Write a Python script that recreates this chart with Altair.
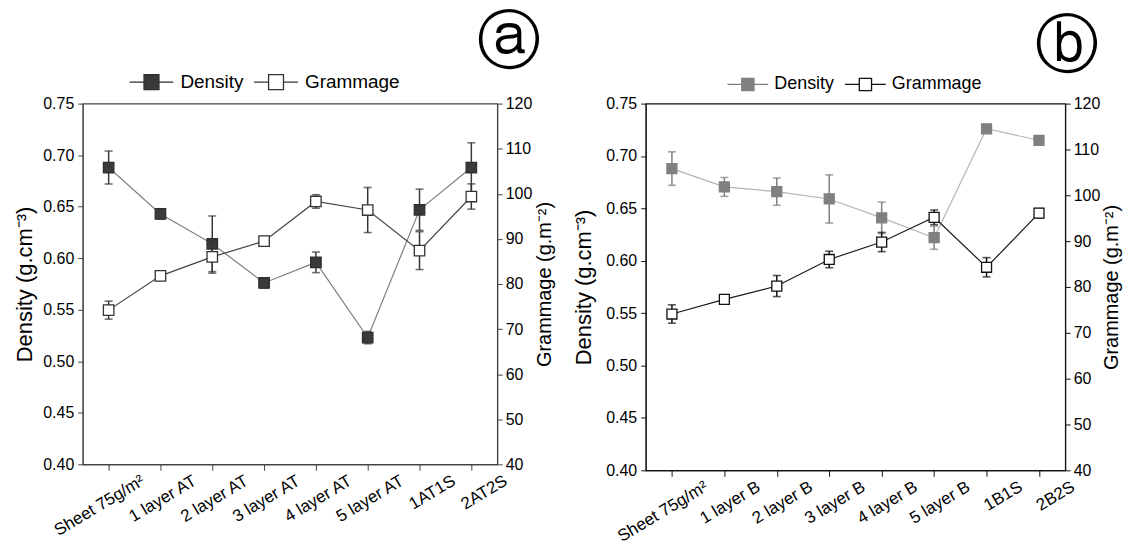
import altair as alt
import pandas as pd

FONT = "Liberation Sans"

# ---------------- data ----------------
cats_a = ["Sheet 75g/m²", "1 layer AT", "2 layer AT", "3 layer AT",
          "4 layer AT", "5 layer AT", "1AT1S", "2AT2S"]
density_a = [0.688, 0.643, 0.614, 0.576, 0.596, 0.523, 0.647, 0.688]
density_a_err = [0.016, 0.005, 0.027, 0.005, 0.010, 0.006, 0.020, 0.024]
grammage_a = [74.2, 81.8, 86.0, 89.5, 98.3, 96.4, 87.4, 99.4]
grammage_a_err = [2.0, 1.0, 3.6, 0.8, 1.5, 5.0, 4.2, 2.8]

cats_b = ["Sheet 75g/m²", "1 layer B", "2 layer B", "3 layer B",
          "4 layer B", "5 layer B", "1B1S", "2B2S"]
density_b = [0.688, 0.6705, 0.666, 0.659, 0.641, 0.622, 0.726, 0.715]
density_b_err = [0.016, 0.009, 0.013, 0.023, 0.015, 0.011, 0.002, 0.002]
grammage_b = [74.1, 77.3, 80.2, 86.0, 89.8, 95.2, 84.3, 96.1]
grammage_b_err = [2.0, 1.0, 2.3, 1.8, 2.1, 1.6, 2.1, 1.0]

density_ticks = [0.40, 0.45, 0.50, 0.55, 0.60, 0.65, 0.70, 0.75]
grammage_ticks = [40, 50, 60, 70, 80, 90, 100, 110, 120]
series_names = ["Density", "Grammage"]


def legend_path(h):
    return (f"M-1,0H{-h}M{h},0H1M{-h},{-h}H{h}V{h}H{-h}Z")


def panel(cats, dens, dens_err, gram, gram_err, st):
    d = pd.DataFrame({"cat": cats, "val": dens, "err": dens_err,
                      "series": series_names[0]})
    g = pd.DataFrame({"cat": cats, "val": gram, "err": gram_err,
                      "series": series_names[1]})

    x_axis = alt.Axis(labelAngle=329, labelAlign="right", labelBaseline="top",
                      labelOffset=st["label_offset"], labelPadding=2,
                      labelFontSize=17, labelFont=FONT, labelColor="black",
                      tickSize=6, tickColor=st["axis"], domainColor=st["axis"],
                      labelOverlap=False, grid=False, title=None)
    xenc = alt.X("cat:N", sort=cats,
                 scale=alt.Scale(type="point", padding=0.5, domain=cats),
                 axis=x_axis)

    leg = alt.Legend(orient="none", legendX=st["legX"], legendY=st["legY"],
                     direction="horizontal", columns=2, title=None,
                     symbolType=legend_path(st["sq"]), symbolSize=st["symS"],
                     symbolStrokeWidth=1.3, symbolOpacity=1,
                     labelFont=FONT, labelFontSize=st["legFont"],
                     labelColor="black", labelOffset=st["labOff"],
                     columnPadding=st["colPad"], padding=0)
    fill_scale = alt.Scale(domain=series_names, range=[st["dfill"], "white"])
    stroke_scale = alt.Scale(domain=series_names,
                             range=[st["dstroke"], st["gstroke"]])

    def group(df, ydom, yaxis, ytitle, line_color, err_color, lw):
        base = alt.Chart(df).transform_calculate(
            lo="datum.val - datum.err", hi="datum.val + datum.err")
        ysc = alt.Scale(domain=ydom, nice=False, zero=False)

        def Y(f):
            return alt.Y(f, scale=ysc, axis=yaxis, title=ytitle)

        line = base.mark_line(color=line_color, strokeWidth=lw).encode(
            x=xenc, y=Y("val:Q"))
        rule = base.mark_rule(color=err_color, strokeWidth=1.5).encode(
            x=xenc, y=Y("lo:Q"), y2="hi:Q")
        tlo = base.mark_tick(color=err_color, size=8, thickness=1.6,
                             orient="horizontal").encode(x=xenc, y=Y("lo:Q"))
        thi = base.mark_tick(color=err_color, size=8, thickness=1.6,
                             orient="horizontal").encode(x=xenc, y=Y("hi:Q"))
        pts = base.mark_point(shape="square", filled=True, size=st["psize"],
                              strokeWidth=1.3, opacity=1).encode(
            x=xenc, y=Y("val:Q"),
            fill=alt.Fill("series:N", scale=fill_scale, legend=leg),
            stroke=alt.Stroke("series:N", scale=stroke_scale, legend=leg))
        return alt.layer(line, rule, tlo, thi, pts)

    dens_axis = alt.Axis(orient="left", values=density_ticks, format=".2f",
                         labelFontSize=16, labelFont=FONT, labelColor="black",
                         labelPadding=4, tickSize=5, tickColor=st["axis"],
                         domainColor=st["axis"], titleFont=FONT,
                         titleFontSize=22, titleFontWeight="normal",
                         titleColor="black", titlePadding=st["ltp"], grid=False)
    gram_axis = alt.Axis(orient="right", values=grammage_ticks,
                         labelFontSize=16, labelFont=FONT, labelColor="black",
                         labelPadding=3, tickSize=5, tickColor=st["axis"],
                         domainColor=st["axis"], titleFont=FONT,
                         titleFontSize=20, titleFontWeight="normal",
                         titleColor="black", titleAngle=270,
                         titleBaseline="top", titlePadding=st["rtp"],
                         grid=False)

    dg = group(d, [0.40, 0.75], dens_axis, "Density (g.cm⁻³)",
               st["dline"], st["derr"], 1.2)
    gg = group(g, [40, 120], gram_axis, "Grammage (g.m⁻²)",
               st["gline"], st["gerr"], 1.2)

    return alt.layer(dg, gg).resolve_scale(y="independent").properties(
        width=st["w"], height=st["h"],
        title=alt.TitleParams(text=st["label"], anchor="end", frame="group",
                              font="DejaVu Sans", fontSize=64,
                              fontWeight="normal", color="black",
                              dx=st["tdx"], offset=st["toff"]),
        view=alt.ViewBackground(stroke=st["axis"], strokeWidth=1.2),
    )


style_a = dict(w=416, h=362, axis="#444444", label_offset=30,
               dfill="#3a3a3a", dstroke="#2e2e2e", dline="#808080",
               derr="#3a3a3a", gline="#444444", gerr="#333333",
               gstroke="#333333", psize=110, legX=46, legY=-45,
               sq=0.34, symS=1936, legFont=19, labOff=6, colPad=7,
               ltp=6, rtp=3, label="ⓐ", tdx=44, toff=-16)
style_b = dict(w=421, h=368, axis="#111111", label_offset=30,
               dfill="#808080", dstroke="#808080", dline="#b4b4b4",
               derr="#808080", gline="#1a1a1a", gerr="#111111",
               gstroke="#111111", psize=100, legX=81, legY=-41,
               sq=0.30, symS=1681, legFont=18, labOff=5, colPad=7,
               ltp=10, rtp=2, label="ⓑ", tdx=34, toff=-16)

pa = panel(cats_a, density_a, density_a_err, grammage_a, grammage_a_err, style_a)
pb = panel(cats_b, density_b, density_b_err, grammage_b, grammage_b_err, style_b)

chart = alt.hconcat(pa, pb, spacing=16).resolve_scale(
    x="independent", y="independent", fill="independent", stroke="independent"
).properties(
    padding={"left": 5, "top": 1, "right": 0, "bottom": 0}
).configure(background="white")

chart.save("out.html", embed_options={"renderer": "svg", "actions": False})
